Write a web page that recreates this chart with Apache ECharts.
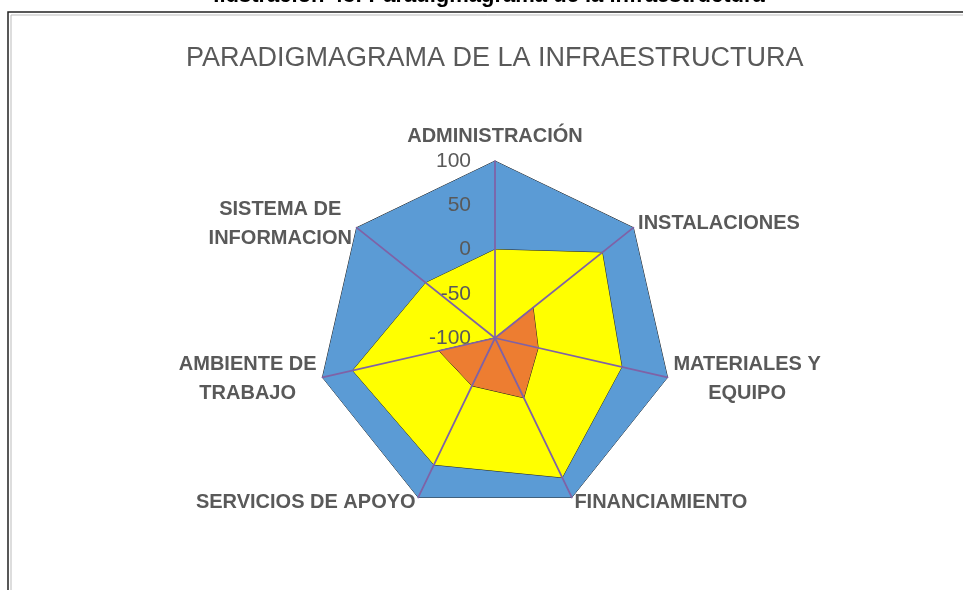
<!DOCTYPE html>
<html lang="es">
<head>
    <meta charset="UTF-8">
    <title>Paradigmagrama de la infraestructura</title>
    <script type="text/javascript" src="https://cdn.jsdelivr.net/npm/echarts@6/dist/echarts.min.js"></script>
    <style>
        html, body { margin: 0; padding: 0; background: #fff; }
    </style>
</head>
<body>
<div id="main" style="width: 963px; height: 590px;"></div>

<script type="text/javascript">
    // ejes del radar (en sentido horario desde arriba)
    const categorias = ['ADMINISTRACIÓN', 'INSTALACIONES', 'MATERIALES Y\nEQUIPO', 'FINANCIAMIENTO',
        'SERVICIOS DE APOYO', 'AMBIENTE DE\nTRABAJO', 'SISTEMA DE\nINFORMACION']
    const maximo = [100, 100, 100, 100, 100, 100, 100]
    const actual = [0, 55, 47, 75, 59, 65, 0]
    const minimo = [-100, -45, -50, -25, -40, -35, -100]
    const ticks = [-100, -50, 0, 50, 100]

    const fuente = "'Liberation Sans', Arial, sans-serif"

    // echarts dibuja el radar en sentido antihorario, se invierte el orden
    const orden = [0, 6, 5, 4, 3, 2, 1]
    const reordenar = arr => orden.map(i => arr[i])

    let chart = echarts.init(document.getElementById('main'))

    chart.setOption({
        animation: false,
        title: {
            text: 'PARADIGMAGRAMA DE LA INFRAESTRUCTURA',
            left: 181,
            top: 40,
            textStyle: { color: '#595959', fontSize: 27, fontWeight: 'normal', fontFamily: fuente }
        },
        graphic: [
            {
                type: 'text', x: 489, y: -15,
                style: { text: 'Ilustración 43: Paradigmagrama de la infraestructura', fill: '#000',
                    textAlign: 'center', font: "bold 22px 'Liberation Sans', sans-serif" }
            },
            { type: 'rect', shape: { x: 8, y: 12, width: 970, height: 600 },
                style: { fill: 'none', stroke: '#222', lineWidth: 1.5 } },
            { type: 'rect', shape: { x: 11, y: 15, width: 970, height: 600 },
                style: { fill: 'none', stroke: '#bbb', lineWidth: 1 } }
        ],
        radar: {
            center: [495, 338],
            radius: 177,
            startAngle: 90,
            shape: 'polygon',
            z: 5,
            splitNumber: ticks.length - 1,
            nameGap: 6,
            axisName: {
                color: '#595959', fontSize: 20, fontWeight: 'bold', fontFamily: fuente, lineHeight: 29,
                formatter: v => v.split('\n').map(s => '{c|' + s + '}').join('\n'),
                rich: {
                    c: { align: 'center', color: '#595959', fontSize: 20, fontWeight: 'bold', fontFamily: fuente, lineHeight: 29 }
                }
            },
            axisLine: { lineStyle: { color: '#7f62a6', width: 1.75 } },
            axisTick: { show: false },
            splitLine: { show: false },
            splitArea: { show: false },
            axisLabel: { show: false },
            indicator: reordenar(categorias).map((c, i) => {
                let ind = { name: c, min: ticks[0], max: ticks[ticks.length - 1] }
                if (i === 0) {
                    ind.axisLabel = { show: true, color: '#595959', fontSize: 21, fontFamily: fuente,
                        margin: 24, padding: [5, 0, 0, 0] }
                }
                return ind
            })
        },
        series: [{
            type: 'radar',
            symbol: 'none',
            data: [
                { value: reordenar(maximo), name: 'Máximo',
                    lineStyle: { color: '#222', width: 1 }, areaStyle: { color: '#5b9bd5', opacity: 1 } },
                { value: reordenar(actual), name: 'Actual',
                    lineStyle: { color: '#222', width: 1 }, areaStyle: { color: '#ffff00', opacity: 1 } },
                { value: reordenar(minimo), name: 'Mínimo',
                    lineStyle: { color: '#222', width: 1 }, areaStyle: { color: '#ed7d31', opacity: 1 } }
            ]
        }]
    })
</script>
</body>
</html>
